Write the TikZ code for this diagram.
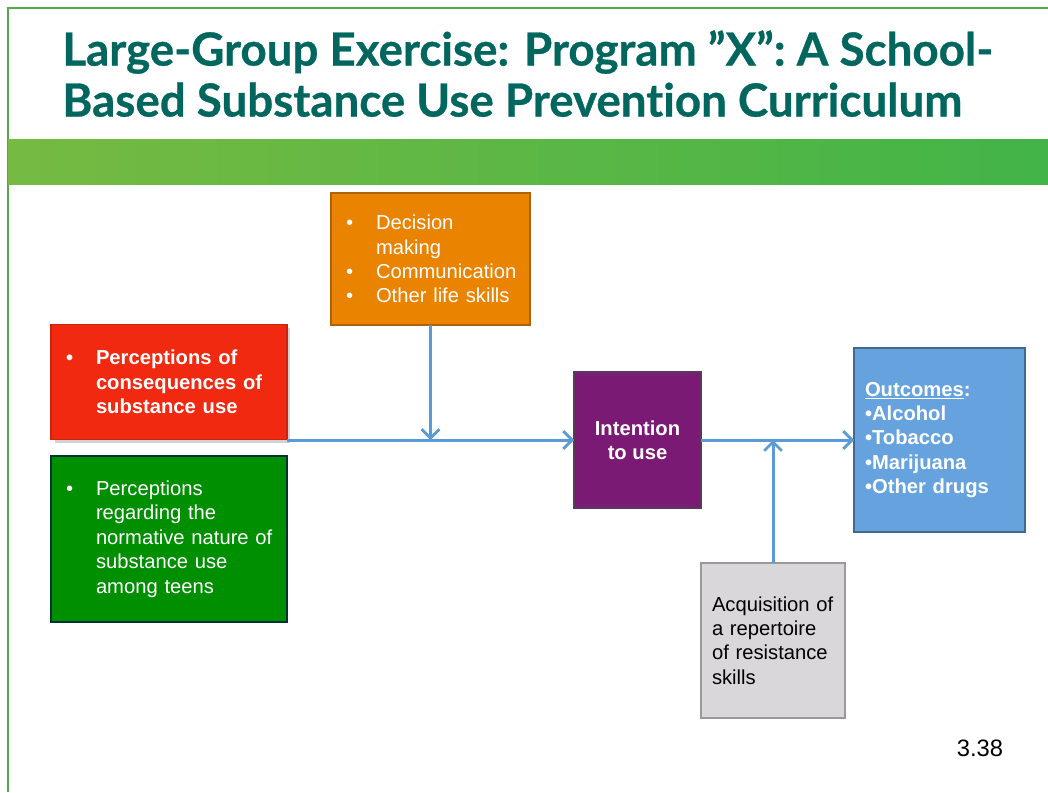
\documentclass[tikz,border=0pt]{standalone}
\usepackage{fontspec}
\setmainfont{Liberation Sans}
\newfontfamily\titlefont[FakeBold=0.6,Ligatures={NoCommon}]{Lato Bold}
\usetikzlibrary{arrows.meta,shadows}

\definecolor{titleteal}{RGB}{0,102,94}
\definecolor{framegreen}{RGB}{84,168,78}
\definecolor{bandleft}{RGB}{118,186,66}
\definecolor{bandright}{RGB}{66,180,72}
\definecolor{skillorange}{RGB}{233,131,0}
\definecolor{consred}{RGB}{240,41,16}
\definecolor{normgreen}{RGB}{0,143,0}
\definecolor{intentpurple}{RGB}{123,26,116}
\definecolor{outblue}{RGB}{102,163,222}
\definecolor{resistgrey}{RGB}{217,215,217}
\definecolor{arrowblue}{RGB}{91,155,213}

\newcommand{\bul}{\hspace*{0.16cm}\makebox[0.6cm][l]{\textbullet}}
\newcommand{\ind}{\hspace*{0.76cm}}

\begin{document}
\begin{tikzpicture}[
		x=0.02cm,
		y=-0.02cm,
		font=\fontsize{11.5}{13.9}\selectfont,
		box/.style={draw,line width=0.8pt,align=left,inner xsep=0.14cm,inner ysep=0pt,outer sep=0pt,text=white},
		flow/.style={-{Straight Barb[length=5pt,width=10pt,line width=1.6pt]},line width=1.7pt,arrowblue}
		]
		
		% =====================================================
		% Slide frame, title and band
		% =====================================================
		\useasboundingbox (0,0) rectangle (1048,792);
		\fill[white] (0,0) rectangle (1048,792);
		\draw[framegreen,line width=1.7pt] (8,792) -- (8,8) -- (1048,8);
		\shade[left color=bandleft,right color=bandright] (8,139) rectangle (1048,184);
		
		\node[anchor=north west,inner sep=0pt,align=left,text=titleteal,
		font=\titlefont\fontsize{26}{29}\selectfont] (title) at (62,30)
		{Large-Group Exercise: Program ”X”: A School-\\Based Substance Use Prevention Curriculum};
		
		% =====================================================
		% Boxes
		% =====================================================
		\node[box,fill=skillorange,draw=skillorange!75!black,minimum width=3.98cm,minimum height=2.64cm,
		text width=3.70cm] (skills) at (430.5,259)
		{\bul Decision\\\ind making\\\bul Communication\\\bul Other life skills};
		
		\node[box,fill=consred,draw=consred!85!black,minimum width=4.72cm,minimum height=2.30cm,
		text width=4.44cm,font=\fontsize{11.5}{13.9}\selectfont\bfseries,
		drop shadow={shadow xshift=2pt,shadow yshift=-2pt,opacity=0.35}] (cons) at (169,382)
		{\bul Perceptions of\\\ind consequences of\\\ind substance use};
		
		\node[box,fill=normgreen,draw=black!60!teal,minimum width=4.72cm,minimum height=3.32cm,
		text width=4.44cm] (norm) at (169,539)
		{\bul Perceptions\\\ind regarding the\\\ind normative nature of\\\ind substance use\\\ind among teens};
		
		\node[box,align=center,fill=intentpurple,draw=black!50!intentpurple!60!gray,minimum width=2.54cm,
		minimum height=2.72cm,font=\fontsize{11.5}{13.9}\selectfont\bfseries] (intent) at (637.5,440)
		{Intention\\to use};
		
		\node[box,fill=outblue,draw=outblue!65!black,inner xsep=0.22cm,minimum width=3.42cm,minimum height=3.68cm,
		text width=2.98cm,font=\fontsize{11.5}{13.9}\selectfont\bfseries] (outcomes) at (939.5,440)
		{\underline{Outcomes}:\\\textbullet Alcohol\\\textbullet Tobacco\\\textbullet Marijuana\\\textbullet Other drugs};
		
		\node[box,text=black,fill=resistgrey,draw=black!40,inner xsep=0.22cm,minimum width=2.88cm,
		minimum height=3.10cm,text width=2.44cm] (resist) at (773,640.5)
		{Acquisition of\\a repertoire\\of resistance\\skills};
		
		\node[font=\fontsize{13.5}{16}\selectfont] (slideno) at (980,748) {3.38};
		
		% =====================================================
		% Arrows
		% =====================================================
		\draw[flow] (cons.east |- intent.west) -- (intent.west);
		\draw[flow] (intent.east) -- (outcomes.west);
		\draw[flow] (skills.south) -- (skills.south |- intent.west);
		\draw[flow] (resist.north) -- (resist.north |- intent.east);
		
	\end{tikzpicture}
\end{document}
